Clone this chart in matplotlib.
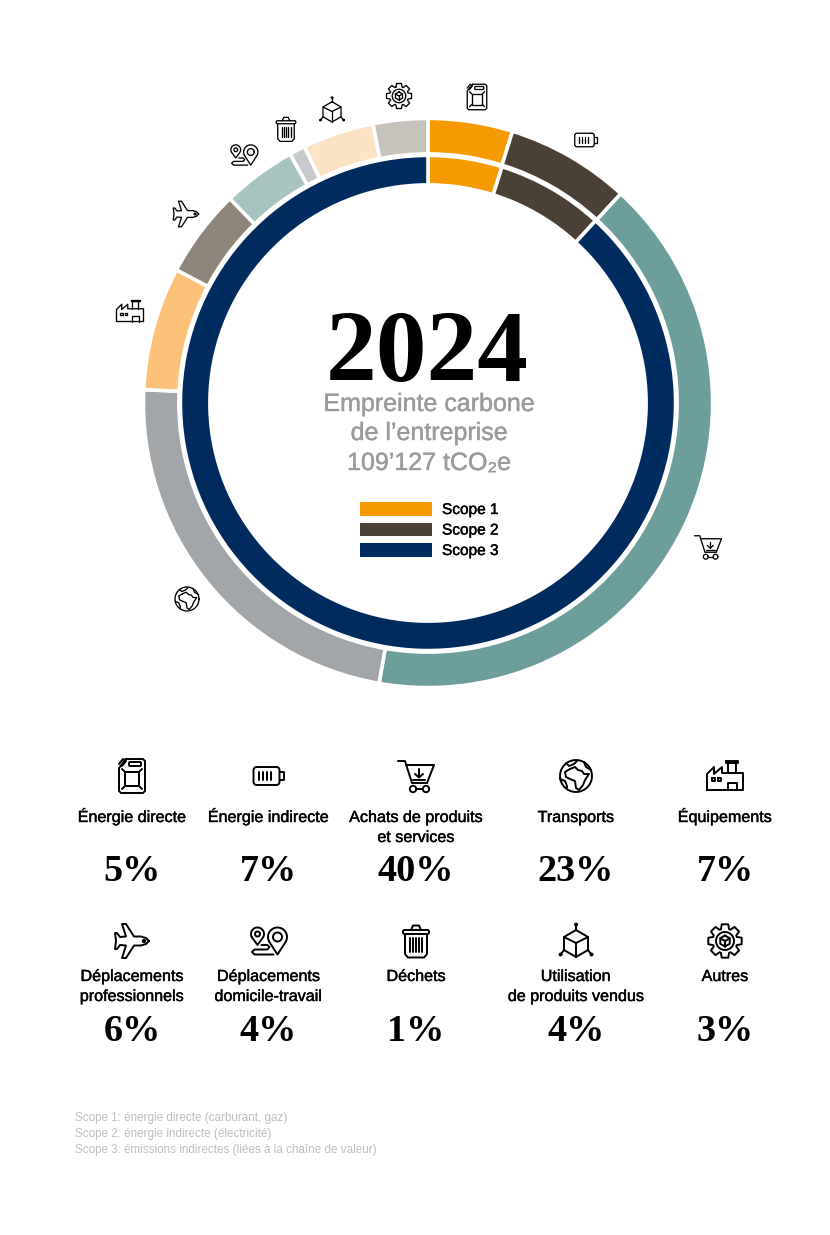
import numpy as np
import matplotlib
matplotlib.use("Agg")
import matplotlib.pyplot as plt
import matplotlib.patheffects as pe
from matplotlib.patches import Rectangle

# parts of the outer ring (share of the total, in %), clockwise from the top
categories = ["Énergie directe", "Énergie indirecte", "Achats de produits\net services", "Transports", "Équipements",
              "Déplacements\nprofessionnels", "Déplacements\ndomicile-travail", "Déchets",
              "Utilisation\nde produits vendus", "Autres"]
ring_values = [4.8, 7.05, 40.9, 23.0, 7.0, 5.0, 4.2, 0.9, 4.05, 3.1]
ring_colors = ["#F59A00", "#4A4036", "#6C9F9C", "#A3A6A8", "#FBC178",
               "#8E857B", "#A8C4C1", "#C8C9CB", "#FDE2C4", "#C5C1BB"]
percent_labels = ["5%", "7%", "40%", "23%", "7%", "6%", "4%", "1%", "4%", "3%"]
icon_names = ["can", "battery", "cart", "globe", "factory", "plane", "pin", "trash", "cube", "gear"]

scope_names = ["Scope 1", "Scope 2", "Scope 3"]
scope_values = [4.83, 7.0, 88.17]
scope_colors = ["#F59A00", "#4A4036", "#002B5F"]

footnotes = ["Scope 1: énergie directe (carburant, gaz)",
             "Scope 2: énergie indirecte (électricité)",
             "Scope 3: émissions indirectes (liées à la chaîne de valeur)"]

# layout in pixels
W, H = 830, 1235
CX, CY = 428, 403
small_pos = [(477, 97), (586, 140), (708, 547), (187, 599), (130, 311),
             (186, 214), (244, 155), (286, 129), (332, 110), (399, 96)]
col_x = [132, 268.5, 416, 576, 725]

SERIF = "Liberation Serif"
plt.rcParams["font.family"] = ["Liberation Sans", "DejaVu Sans"]


def arc(x, y, r, a0=0, a1=360, n=40):
    t = np.radians(np.linspace(a0, a1, n))
    return np.column_stack([x + r * np.cos(t), y + r * np.sin(t)])


def poly(*pts):
    return np.array(pts, dtype=float)


def rrect(x0, y0, x1, y1, r=2):
    # rounded rectangle
    return np.vstack([arc(x1 - r, y0 + r, r, -90, 0, 6), arc(x1 - r, y1 - r, r, 0, 90, 6),
                      arc(x0 + r, y1 - r, r, 90, 180, 6), arc(x0 + r, y0 + r, r, 180, 270, 6),
                      [[x1 - r, y0]]])


def icon_strokes(name):
    # outlines of the icon, about 36 units wide, y going down
    if name == "can":
        return [poly((-6, -17), (11, -17), (13, -15), (13, 15), (11, 17), (-11, 17), (-13, 15), (-13, -8), (-6, -17)),
                poly((-13, -12), (-9, -17), (-6, -15), (-10, -10)),
                rrect(-3, -14, 9, -10, 1),
                poly((-7, -4), (7, -4), (7, 10), (-7, 10), (-7, -4)),
                poly((-7, -4), (-10, -7)), poly((7, -4), (10, -7)),
                poly((-7, 10), (-10, 13)), poly((7, 10), (10, 13))]
    if name == "battery":
        return [rrect(-15, -9, 11, 9, 3),
                poly((11, -4), (15, -4), (15, 4), (11, 4)),
                poly((-10, -4), (-10, 4)), poly((-6, -4), (-6, 4)),
                poly((-2, -4), (-2, 4)), poly((2, -4), (2, 4))]
    if name == "cart":
        return [poly((-18, -15), (-11, -15), (-4, 7), (11, 7)),
                poly((-10, -11), (18, -11), (11, 7)),
                arc(-3, 13, 3.2), arc(10, 13, 3.2), poly((0, 13), (7, 13)),
                poly((3, -7), (3, 1)), poly((-1, -2), (3, 1.5), (7, -2)), poly((-3, 3.5), (9, 3.5))]
    if name == "globe":
        return [arc(0, 0, 16),
                poly((-6, -7), (-1, -9), (2, -6), (6, -5), (8, -2), (13, -2), (9, 4), (7, 9), (3, 14), (0, 12),
                     (-1, 5), (-6, 3), (-10, 1), (-11, -4), (-6, -7)),
                poly((-10, -13), (-7, -10), (-2, -12), (1, -15)),
                poly((8, -14), (10, -9), (15, -6)),
                poly((-16, 3), (-11, 5), (-9, 10), (-9, 13))]
    if name == "factory":
        return [poly((-18, 14), (-18, -2), (-11, -9), (-11, -2), (-3, -9), (-3, -3), (18, -3), (18, 14), (-18, 14)),
                poly((3, -3), (3, -13), (11, -13), (11, -3)), poly((1, -15), (13, -15), (13, -13), (1, -13), (1, -15)),
                poly((3, 14), (3, 7), (12, 7), (12, 14)),
                poly((-13, 2), (-10, 2), (-10, 5), (-13, 5), (-13, 2)),
                poly((-7, 2), (-4, 2), (-4, 5), (-7, 5), (-7, 2))]
    if name == "plane":
        return [poly((17, 0), (14, -3), (9, -4.5), (2, -4.5), (-6, -17), (-10, -17), (-6, -4.5), (-12, -4),
                     (-15, -8), (-17, -8), (-16, 0), (-17, 8), (-15, 8), (-12, 4), (-6, 4.5), (-10, 17), (-6, 17),
                     (2, 4.5), (9, 4.5), (14, 3), (17, 0)),
                arc(12, 0, 1.2, n=12)]
    if name == "pin":
        return [np.vstack([arc(9, -4, 9.5, 150, 390), [[9, 13.5]], arc(9, -4, 9.5, 150, 151, 2)]),
                arc(9, -4, 4.5),
                np.vstack([arc(-11, -7, 6.5, 150, 390), [[-11, 4]], arc(-11, -7, 6.5, 150, 151, 2)]),
                arc(-11, -7, 2.5),
                poly((-7, 4), (-1, 4), (1, 6), (-1, 8.5), (-14, 8.5), (-16.5, 11), (-14, 13.5), (5, 13.5))]
    if name == "trash":
        return [rrect(-13, -11, 13, -7, 1.5),
                poly((-5, -11), (-3, -15.5), (3, -15.5), (5, -11)),
                poly((-11, -7), (-11, 13), (-8, 16.5), (8, 16.5), (11, 13), (11, -7)),
                poly((-6, -3), (-6, 11)), poly((-3, -3), (-3, 11)), poly((0, -3), (0, 11)),
                poly((3, -3), (3, 11)), poly((6, -3), (6, 11))]
    if name == "cube":
        return [poly((0, -11), (12, -4), (12, 9), (0, 16), (-12, 9), (-12, -4), (0, -11)),
                poly((-12, -4), (0, 2), (12, -4)), poly((0, 2), (0, 16)),
                poly((0, -11), (0, -16)), poly((-12, 9), (-15, 13)), poly((12, 9), (15, 13)),
                arc(0, -16.5, 1, n=10), arc(-15.5, 13.5, 1, n=10), arc(15.5, 13.5, 1, n=10)]
    # gear
    pts = []
    for k in range(8):
        a = k * 45 - 90
        for da, r in [(-19, 12.5), (-11, 17), (11, 17), (19, 12.5)]:
            t = np.radians(a + da)
            pts.append((r * np.cos(t), r * np.sin(t)))
    pts.append(pts[0])
    hexa = [(5.5 * np.cos(np.radians(60 * k - 90)), 5.5 * np.sin(np.radians(60 * k - 90))) for k in range(7)]
    return [poly(*pts), arc(0, 0, 9, n=30), poly(*hexa),
            poly((-4.8, -2.7), (0, 0), (4.8, -2.7)), poly((0, 0), (0, 5.5))]


def draw_icon(ax, name, x, y, scale, lw):
    for s in icon_strokes(name):
        ax.plot(x + s[:, 0] * scale, y + s[:, 1] * scale, color="black", lw=lw,
                solid_joinstyle="round", solid_capstyle="round")


def medium_text(ax, x, y, s, size, color, ha="center"):
    # Liberation has no medium weight, a thin stroke thickens the regular one
    t = ax.text(x, y, s, fontsize=size, color=color, ha=ha, va="baseline")
    t.set_path_effects([pe.withStroke(linewidth=0.3, foreground=color)])
    return t


fig = plt.figure(figsize=(W / 100, H / 100), dpi=100, facecolor="white")

# donut: square axes in pixel units, centred on the ring
pie_half = 300
pie_ax = fig.add_axes([(CX - pie_half) / W, 1 - (CY + pie_half) / H, 2 * pie_half / W, 2 * pie_half / H])
pie_ax.pie(ring_values, colors=ring_colors, radius=284.6, startangle=90, counterclock=False,
           wedgeprops=dict(width=35.5, edgecolor="white", linewidth=2.6))
pie_ax.pie(scope_values, colors=scope_colors, radius=247.6, startangle=90, counterclock=False,
           wedgeprops=dict(width=29.5, edgecolor="white", linewidth=2.6))
pie_ax.set_xlim(-pie_half, pie_half)
pie_ax.set_ylim(-pie_half, pie_half)
pie_ax.axis("off")

# everything else in figure pixels
ax = fig.add_axes([0, 0, 1, 1])
ax.patch.set_alpha(0)
ax.axis("off")

ax.text(CX - 1, 380, "2024", family=SERIF, weight="bold", fontsize=73, ha="center", va="baseline", color="black")
grey = "#9B9B9B"
medium_text(ax, CX + 1, 411, "Empreinte carbone", 18, grey)
medium_text(ax, CX + 1, 440, "de l’entreprise", 18, grey)
medium_text(ax, CX + 1, 470, "109’127 tCO₂e", 18, grey)

# legend of the inner ring
for i, name in enumerate(scope_names):
    y = 509 + i * 20.5
    ax.add_patch(Rectangle((360, y - 6.7), 72, 13.4, facecolor=scope_colors[i], edgecolor="none"))
    medium_text(ax, 442, y + 5, name, 11.1, "black", ha="left")

# icons around the ring
for name, (x, y) in zip(icon_names, small_pos):
    draw_icon(ax, name, x, y, 0.75, 0.95)

# two rows of five categories
for i, label in enumerate(categories):
    row, col = divmod(i, 5)
    x = col_x[col]
    y0 = row * 160
    draw_icon(ax, icon_names[i], x, 776 + y0 + row * 5, 1.0, 1.4)
    for j, part in enumerate(label.split("\n")):
        medium_text(ax, x, 822 + y0 - row * 1 + j * 20, part, 11.6, "black")
    ax.text(x, 881 + y0, percent_labels[i], family=SERIF, weight="bold", fontsize=27.5,
            ha="center", va="baseline", color="black")

for i, note in enumerate(footnotes):
    ax.text(75, 1121 + i * 16, note, fontsize=8.4, color="#BDBDBD", ha="left", va="baseline")

ax.set_xlim(0, W)
ax.set_ylim(H, 0)

fig.savefig("out.png", dpi=100)
